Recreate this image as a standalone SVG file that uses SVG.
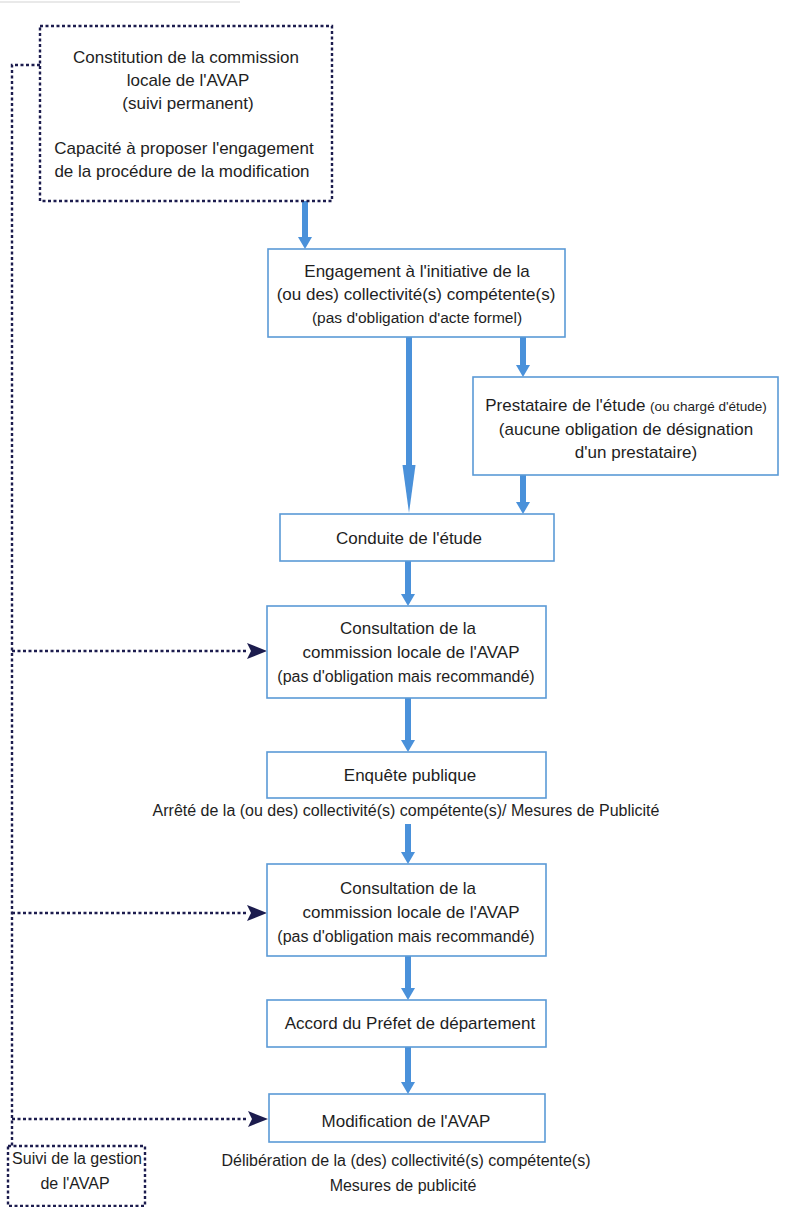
<svg xmlns="http://www.w3.org/2000/svg" width="791" height="1207" viewBox="0 0 791 1207">
<defs>
<style>
.box{fill:#ffffff;stroke:#5b9ad6;stroke-width:1.6}
.dbox{fill:#ffffff;stroke:#1c1c4e;stroke-width:2.4;stroke-dasharray:3 2.5}
.t{font-family:"Liberation Sans",Arial,sans-serif;font-size:17px;fill:#1e1e1e;text-anchor:middle}
.s{font-size:15.5px}
.m{font-size:16px}
.xs{font-size:13.5px}
.blue{stroke:#4a91da;stroke-width:6;fill:none}
.dot{stroke:#1c1c4e;stroke-width:2.4;stroke-dasharray:3 2.5;fill:none}
</style>
<marker id="bh" markerUnits="userSpaceOnUse" markerWidth="16" markerHeight="14" refX="0" refY="7" orient="auto">
<path d="M0,0 L12,7 L0,14 Z" fill="#4a91da"/>
</marker>
<marker id="nh" markerUnits="userSpaceOnUse" markerWidth="22" markerHeight="18" refX="0" refY="8" orient="auto">
<path d="M0,0 L20,8 L0,16 L4,8 Z" fill="#1c1c4e"/>
</marker>
</defs>
<rect width="791" height="1207" fill="#ffffff"/>
<line x1="0" y1="2" x2="240" y2="2" stroke="#e2e2e2" stroke-width="1.5"/>

<g id="connectors">
<line class="blue" x1="305" y1="201" x2="305" y2="237" marker-end="url(#bh)"/>
<line class="blue" x1="409" y1="337" x2="409" y2="466"/>
<polygon points="402.5,465 415.5,465 409,513" fill="#4a91da"/>
<line class="blue" x1="523" y1="337" x2="523" y2="365" marker-end="url(#bh)"/>
<line class="blue" x1="523" y1="475" x2="523" y2="502" marker-end="url(#bh)"/>
<line class="blue" x1="408" y1="561" x2="408" y2="594" marker-end="url(#bh)"/>
<line class="blue" x1="408" y1="698" x2="408" y2="740" marker-end="url(#bh)"/>
<line class="blue" x1="408" y1="824" x2="408" y2="852" marker-end="url(#bh)"/>
<line class="blue" x1="408" y1="956" x2="408" y2="988" marker-end="url(#bh)"/>
<line class="blue" x1="408" y1="1047" x2="408" y2="1082" marker-end="url(#bh)"/>
<path class="dot" d="M40,65 H12 V1146"/>
<path class="dot" d="M12,651 H247" marker-end="url(#nh)"/>
<path class="dot" d="M12,913 H247" marker-end="url(#nh)"/>
<path class="dot" d="M12,1119 H248" marker-end="url(#nh)"/>
</g>

<g id="n-constitution">
<rect class="dbox" x="40" y="26" width="292" height="175"/>
<text class="t" x="186" y="63">Constitution de la commission</text>
<text class="t" x="188" y="86">locale de l'AVAP</text>
<text class="t" x="188" y="109">(suivi permanent)</text>
<text class="t" x="184" y="154">Capacité à proposer l'engagement</text>
<text class="t" x="182" y="177">de la procédure de la modification</text>
</g>

<g id="n-engagement">
<rect class="box" x="268" y="249" width="297" height="88"/>
<text class="t" x="417" y="277">Engagement à l'initiative de la</text>
<text class="t" x="416" y="300">(ou des) collectivité(s) compétente(s)</text>
<text class="t s" x="417" y="323">(pas d'obligation d'acte formel)</text>
</g>

<g id="n-prestataire">
<rect class="box" x="473" y="377" width="305" height="98"/>
<text class="t" x="626" y="411"><tspan>Prestataire de l'étude </tspan><tspan class="xs">(ou chargé d'étude)</tspan></text>
<text class="t" x="626" y="435">(aucune obligation de désignation</text>
<text class="t" x="636" y="458">d'un prestataire)</text>
</g>

<g id="n-conduite">
<rect class="box" x="280" y="514" width="274" height="47"/>
<text class="t" x="409" y="544">Conduite de l'étude</text>
</g>

<g id="n-consultation1">
<rect class="box" x="267" y="606" width="279" height="92"/>
<text class="t" x="408" y="634">Consultation de la</text>
<text class="t" x="411" y="658">commission locale de l'AVAP</text>
<text class="t m" x="406" y="682">(pas d'obligation mais recommandé)</text>
</g>

<g id="n-enquete">
<rect class="box" x="267" y="752" width="279" height="46"/>
<text class="t" x="410" y="781">Enquête publique</text>
</g>

<text class="t m" x="406" y="816">Arrêté de la (ou des) collectivité(s) compétente(s)/ Mesures de Publicité</text>

<g id="n-consultation2">
<rect class="box" x="267" y="864" width="279" height="92"/>
<text class="t" x="408" y="894">Consultation de la</text>
<text class="t" x="411" y="918">commission locale de l'AVAP</text>
<text class="t m" x="406" y="942">(pas d'obligation mais recommandé)</text>
</g>

<g id="n-accord">
<rect class="box" x="267" y="1000" width="279" height="47"/>
<text class="t" x="410" y="1029">Accord du Préfet de département</text>
</g>

<g id="n-modification">
<rect class="box" x="269" y="1094" width="276" height="48"/>
<text class="t" x="406" y="1127">Modification de l'AVAP</text>
</g>

<text class="t m" x="406" y="1166">Délibération de la (des) collectivité(s) compétente(s)</text>
<text class="t m" x="403" y="1191">Mesures de publicité</text>

<g id="n-suivi">
<rect class="dbox" x="8" y="1146" width="137" height="60"/>
<text class="t m" x="77" y="1164">Suivi de la gestion</text>
<text class="t m" x="75" y="1189">de l'AVAP</text>
</g>
</svg>
